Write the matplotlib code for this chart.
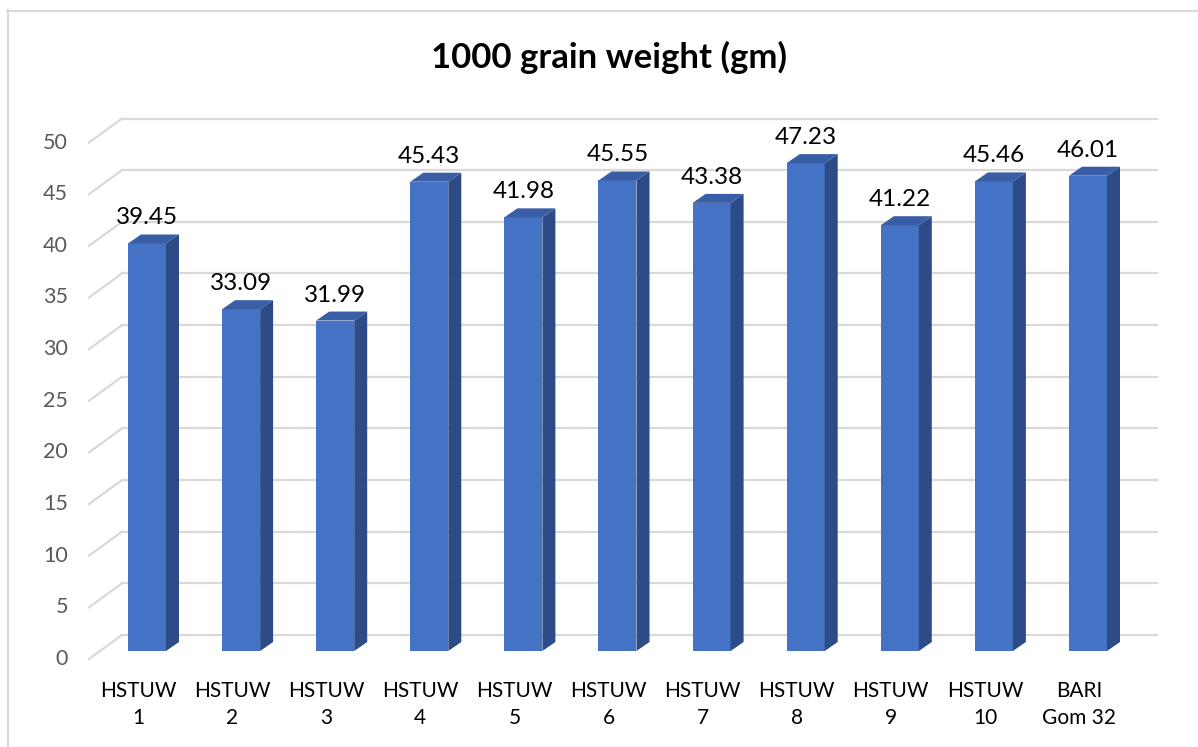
import matplotlib
matplotlib.use("Agg")
import matplotlib.pyplot as plt
import numpy as np
from matplotlib.patches import Polygon
from matplotlib.lines import Line2D

# ---- data ----
categories = ["HSTUW\n1", "HSTUW\n2", "HSTUW\n3", "HSTUW\n4", "HSTUW\n5",
              "HSTUW\n6", "HSTUW\n7", "HSTUW\n8", "HSTUW\n9", "HSTUW\n10",
              "BARI\nGom 32"]
weights = [39.45, 33.09, 31.99, 45.43, 41.98, 45.55, 43.38, 47.23, 41.22, 45.46, 46.01]
y_ticks = [0, 5, 10, 15, 20, 25, 30, 35, 40, 45, 50]
title = "1000 grain weight (gm)"

# ---- style ----
plt.rcParams["font.family"] = ["Lato", "DejaVu Sans"]
FRONT_C = "#4472C4"
SIDE_C = "#2D4C87"
TOP_C = "#3A5EA5"
GRID_C = "#D9D9D9"
TICK_C = "#595959"

W, H = 1198, 747
fig = plt.figure(figsize=(W / 100, H / 100), dpi=100)
ax = fig.add_axes([0, 0, 1, 1])
ax.set_axis_off()

# pixel layout of the plotting box
X0, STEP = 147.0, 94.1     # centre of first bar, spacing between bars
Y0, UNIT = 651.0, 10.33    # baseline of bar fronts, pixels per unit
ax.set_xlim(-X0 / STEP, (W - X0) / STEP)
ax.set_ylim(-(H - Y0) / UNIT, Y0 / UNIT)


def dx(px):
    return px / STEP


def dy(px):
    return px / UNIT


def xpx(px):
    return (px - X0) / STEP


BAR_W = dx(38)
BAR_DX, BAR_DY = dx(13), dy(9)        # bar depth
FRONT_DY = dy(-8)                      # front plane relative to bar fronts
BACK_DY = dy(16)                       # back wall relative to bar fronts
X_FRONT, X_BACK, X_RIGHT = xpx(89), xpx(122), xpx(1157)

# gridlines: back wall + left side wall diagonals
for v in y_ticks:
    ax.add_line(Line2D([X_BACK, X_RIGHT], [v + BACK_DY, v + BACK_DY],
                       color=GRID_C, lw=1.6, zorder=1))
    ax.add_line(Line2D([X_FRONT, X_BACK], [v + FRONT_DY, v + BACK_DY],
                       color=GRID_C, lw=1.6, zorder=1))
    ax.text(xpx(68), v + FRONT_DY, f"{v}", ha="right", va="center",
            color=TICK_C, fontsize=15.5)

# bars with depth
x = np.arange(len(weights))
ax.bar(x, weights, width=BAR_W, color=FRONT_C, zorder=3)
for xi, v in zip(x, weights):
    left, right = xi - BAR_W / 2, xi + BAR_W / 2
    ax.add_patch(Polygon([(right, 0), (right, v), (right + BAR_DX, v + BAR_DY),
                          (right + BAR_DX, BAR_DY)], closed=True,
                         facecolor=SIDE_C, edgecolor="none", zorder=3))
    ax.add_patch(Polygon([(left, v), (right, v), (right + BAR_DX, v + BAR_DY),
                          (left + BAR_DX, v + BAR_DY)], closed=True,
                         facecolor=TOP_C, edgecolor="none", zorder=3))
    ax.text(xi, v + dy(19), f"{v:.2f}", ha="center", va="baseline",
            color="black", fontsize=17.5)

# category labels
for xi, lab in zip(x, categories):
    ax.text(xi - dx(9), -dy(681 - Y0), lab, ha="center", va="top",
            color="black", fontsize=15, linespacing=1.45)

# title
fig.text(609 / W, 1 - 68 / H, title, ha="center", va="baseline",
         fontsize=25, fontweight="bold", color="black")

# chart area border (top and left)
fig.add_artist(Line2D([7 / W, 1], [1 - 10.5 / H, 1 - 10.5 / H],
                      transform=fig.transFigure, color=GRID_C, lw=1.5))
fig.add_artist(Line2D([7.5 / W, 7.5 / W], [0, 1 - 10 / H],
                      transform=fig.transFigure, color=GRID_C, lw=1.5))

fig.savefig("out.png", dpi=100)
